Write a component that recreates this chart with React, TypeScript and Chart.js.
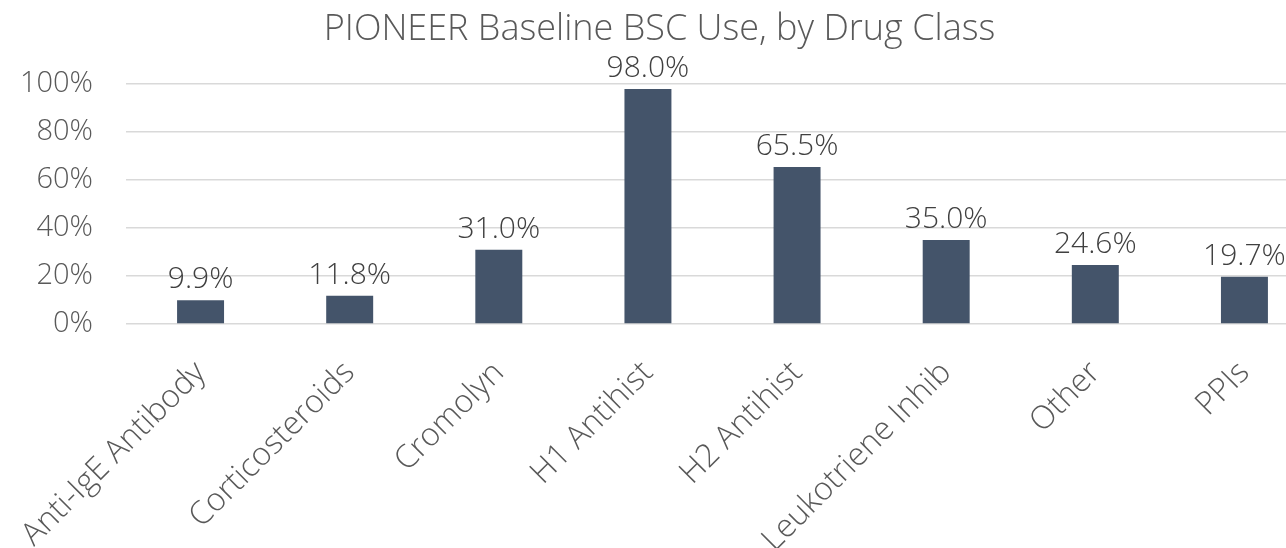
import React, { useEffect, useRef } from "react";
import { Chart, registerables } from "chart.js";

Chart.register(...registerables);

const categories = [
  "Anti-IgE Antibody",
  "Corticosteroids",
  "Cromolyn",
  "H1 Antihist",
  "H2 Antihist",
  "Leukotriene Inhib",
  "Other",
  "PPIs",
];
const values = [9.9, 11.8, 31.0, 98.0, 65.5, 35.0, 24.6, 19.7];
const yTicks = [0, 20, 40, 60, 80, 100];
const chartTitle = "PIONEER Baseline BSC Use, by Drug Class";
const FONT = "'Open Sans', 'Noto Sans', sans-serif";

const dataLabels = {
  id: "dataLabels",
  afterDatasetsDraw(chart: any) {
    const ctx = chart.ctx;
    const meta = chart.getDatasetMeta(0);
    ctx.save();
    ctx.font = `300 30px ${FONT}`;
    ctx.fillStyle = "#404040";
    ctx.textAlign = "center";
    ctx.textBaseline = "alphabetic";
    meta.data.forEach((bar: any, i: number) => {
      ctx.fillText(values[i].toFixed(1) + "%", bar.x, bar.y - 12);
    });
    ctx.restore();
  },
};

export default function App() {
  const ref = useRef<HTMLCanvasElement>(null);
  useEffect(() => {
    document.body.style.margin = "0";
    document.body.style.overflow = "hidden";
    const chart = new Chart(ref.current!, {
      type: "bar",
      data: {
        labels: categories,
        datasets: [
          {
            data: values,
            backgroundColor: "#44546A",
            barPercentage: 0.315,
            categoryPercentage: 1,
          },
        ],
      },
      options: {
        animation: false,
        responsive: true,
        maintainAspectRatio: false,
        layout: { padding: { top: 0, right: 0, left: 0, bottom: 0 } },
        plugins: {
          legend: { display: false },
          tooltip: { enabled: false },
          title: {
            display: true,
            text: chartTitle,
            color: "#595959",
            font: { size: 36, family: FONT, weight: "300" as any },
            padding: { top: 8, bottom: 33 },
          },
        },
        scales: {
          x: {
            grid: { display: false },
            border: { display: false },
            afterFit: (s: any) => {
              s.height = 224;
              s.paddingLeft = 0;
              s.paddingRight = 0;
            },
            ticks: {
              color: "#595959",
              font: { size: 32, family: FONT, weight: "300" as any },
              minRotation: 45,
              maxRotation: 45,
              padding: 22,
            },
          },
          y: {
            min: 0,
            max: 100,
            afterFit: (s: any) => {
              s.width = 126;
            },
            afterBuildTicks: (s: any) => {
              s.ticks = yTicks.map((v) => ({ value: v }));
            },
            grid: { color: "#d9d9d9", lineWidth: 1.5, drawTicks: false },
            border: { display: false },
            ticks: {
              color: "#595959",
              font: { size: 29, family: FONT, weight: "300" as any },
              padding: 33,
              callback: (v: any) => `${v}%`,
            },
          },
        },
      },
      plugins: [dataLabels],
    });
    return () => chart.destroy();
  }, []);
  return (
    <div style={{ width: 1286, height: 548, overflow: "hidden", position: "relative" }}>
      <div style={{ width: 1319, height: 548, position: "relative" }}>
        <canvas ref={ref} />
      </div>
    </div>
  );
}
